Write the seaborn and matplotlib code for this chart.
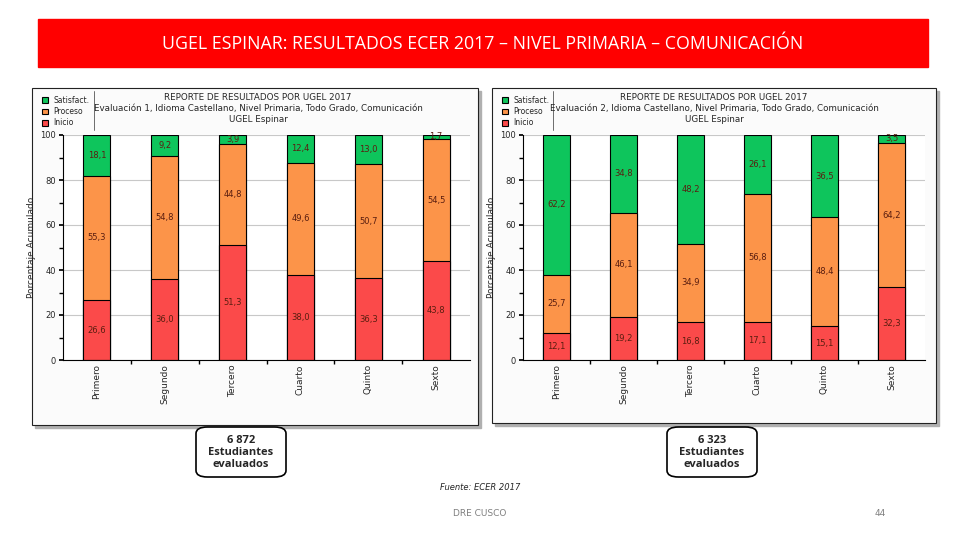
import numpy as np
import pandas as pd
import seaborn as sns
import matplotlib.pyplot as plt
from matplotlib.patches import Rectangle, FancyBboxPatch
from matplotlib.ticker import MultipleLocator, FixedLocator

grados = ['Primero', 'Segundo', 'Tercero', 'Cuarto', 'Quinto', 'Sexto']

# Evaluacion 1
inicio_1 = [26.6, 36.0, 51.3, 38.0, 36.3, 43.8]
proceso_1 = [55.3, 54.8, 44.8, 49.6, 50.7, 54.5]
satisf_1 = [18.1, 9.2, 3.9, 12.4, 13.0, 1.7]

# Evaluacion 2
inicio_2 = [12.1, 19.2, 16.8, 17.1, 15.1, 32.3]
proceso_2 = [25.7, 46.1, 34.9, 56.8, 48.4, 64.2]
satisf_2 = [62.2, 34.8, 48.2, 26.1, 36.5, 3.5]

evaluados = ['6 872', '6 323']

c_sat = '#0ec55c'
c_pro = '#fc9449'
c_ini = '#fb4a4a'

sns.set_theme(style='white')
plt.rcParams['font.family'] = ['DejaVu Sans']

fig = plt.figure(figsize=(9.6, 5.4), dpi=100)
W, H = 960, 540


def fx(x):
    return x / W


def fy(y):
    return 1 - y / H


# banner
fig.patches.append(Rectangle((fx(38), fy(67)), fx(928) - fx(38), fy(19) - fy(67),
                             transform=fig.transFigure, color='#ff0000', zorder=-2))
fig.text(fx(483), fy(44), 'UGEL ESPINAR: RESULTADOS ECER 2017 – NIVEL PRIMARIA – COMUNICACIÓN',
         color='white', fontsize=12.8, ha='center', va='center', family='Open Sans')


def panel(x0, x1, y0, y1):
    # shadow + frame
    fig.patches.append(Rectangle((fx(x0 + 3), fy(y1 + 3)), fx(x1) - fx(x0), fy(y0) - fy(y1),
                                 transform=fig.transFigure, color='#b0b0b0', zorder=-2))
    fig.patches.append(Rectangle((fx(x0), fy(y1)), fx(x1) - fx(x0), fy(y0) - fy(y1),
                                 transform=fig.transFigure, facecolor='#fbfbfb',
                                 edgecolor='#222222', lw=0.8, zorder=-1))


def draw_chart(ax, ini, pro, sat, title_x, leg_x, sep_x, num):
    df = pd.DataFrame({'grado': grados, 'ini': ini, 'pro': pro, 'sat': sat})
    df['tot'] = df['ini'] + df['pro'] + df['sat']
    df['ip'] = df['ini'] + df['pro']
    sns.barplot(data=df, x='grado', y='tot', color=c_sat, width=0.4, edgecolor='black',
                linewidth=0.8, saturation=1, ax=ax, label='Satisfact.')
    sns.barplot(data=df, x='grado', y='ip', color=c_pro, width=0.4, edgecolor='black',
                linewidth=0.8, saturation=1, ax=ax, label='Proceso')
    sns.barplot(data=df, x='grado', y='ini', color=c_ini, width=0.4, edgecolor='black',
                linewidth=0.8, saturation=1, ax=ax, label='Inicio')
    for i, r in df.iterrows():
        for lo, v in [(0, r['ini']), (r['ini'], r['pro']), (r['ip'], r['sat'])]:
            ax.text(i, lo + v / 2, f'{v:.1f}'.replace('.', ','), ha='center', va='center',
                    fontsize=6, color='#5a1e10')
    ax.set_ylim(0, 100)
    ax.set_xlim(-0.5, 5.5)
    ax.yaxis.set_major_locator(MultipleLocator(20))
    ax.yaxis.set_minor_locator(MultipleLocator(10))
    ax.xaxis.set_minor_locator(FixedLocator(np.arange(0.5, 5.5, 1)))
    ax.grid(axis='y', color='#c8c8c8', lw=0.8)
    ax.set_axisbelow(True)
    ax.tick_params(axis='y', which='both', left=True, length=3, labelsize=6, color='black', pad=2)
    ax.tick_params(axis='x', which='major', length=0, labelsize=6.5, rotation=90, pad=3)
    ax.tick_params(axis='x', which='minor', bottom=True, length=3, color='black')
    for s in ['top', 'right']:
        ax.spines[s].set_visible(False)
    for s in ['left', 'bottom']:
        ax.spines[s].set_color('black')
        ax.spines[s].set_linewidth(0.8)
    ax.set_xlabel('')
    ax.set_ylabel('Porcentaje Acumulado', fontsize=6.5, labelpad=3)
    ax.set_facecolor('white')
    handles, labels = ax.get_legend_handles_labels()
    ax.legend(handles, labels, loc='upper left', bbox_to_anchor=(fx(leg_x), fy(92)),
              bbox_transform=fig.transFigure, fontsize=5.5, frameon=False, handlelength=0.8,
              handleheight=0.8, handletextpad=0.7, labelspacing=0.3, borderpad=0)
    fig.add_artist(plt.Line2D([fx(sep_x), fx(sep_x)], [fy(91), fy(130)],
                              transform=fig.transFigure, color='#555555', lw=0.6))
    fig.text(fx(title_x), fy(98), 'REPORTE DE RESULTADOS POR UGEL 2017', ha='center',
             va='center', fontsize=6.3)
    fig.text(fx(title_x), fy(109),
             f'Evaluación {num}, Idioma Castellano, Nivel Primaria, Todo Grado, Comunicación',
             ha='center', va='center', fontsize=6.3)
    fig.text(fx(title_x), fy(120), 'UGEL Espinar', ha='center', va='center', fontsize=6.3)


panel(32, 478, 88, 425)
panel(492, 936, 88, 423)

ax1 = fig.add_axes([fx(63), fy(360), fx(470) - fx(63), fy(135) - fy(360)])
ax2 = fig.add_axes([fx(523), fy(360), fx(925) - fx(523), fy(135) - fy(360)])
draw_chart(ax1, inicio_1, proceso_1, satisf_1, 258, 38, 94, 1)
draw_chart(ax2, inicio_2, proceso_2, satisf_2, 714, 498, 553, 2)

# boxes with evaluated students
for (x0, x1), n in zip([(196, 286), (667, 757)], evaluados):
    fig.patches.append(FancyBboxPatch((fx(x0), fy(477)), fx(x1) - fx(x0), fy(427) - fy(477),
                                      boxstyle='round,pad=0,rounding_size=0.012',
                                      transform=fig.transFigure, facecolor='white',
                                      edgecolor='black', lw=1.2, zorder=1))
    fig.text(fx((x0 + x1) / 2), fy(452.5), f'{n}\nEstudiantes\nevaluados', ha='center',
             va='center', fontsize=8, linespacing=1.1, family='Open Sans', weight='bold',
             zorder=2)

fig.text(fx(480), fy(488), 'Fuente: ECER 2017', ha='center', va='center', fontsize=6,
         style='italic')
fig.text(fx(480), fy(514), 'DRE CUSCO', ha='center', va='center', fontsize=6.5, color='#7f7f7f')
fig.text(fx(880), fy(514), '44', ha='center', va='center', fontsize=6.5, color='#7f7f7f')

fig.savefig('out.png', dpi=100, facecolor='white')
